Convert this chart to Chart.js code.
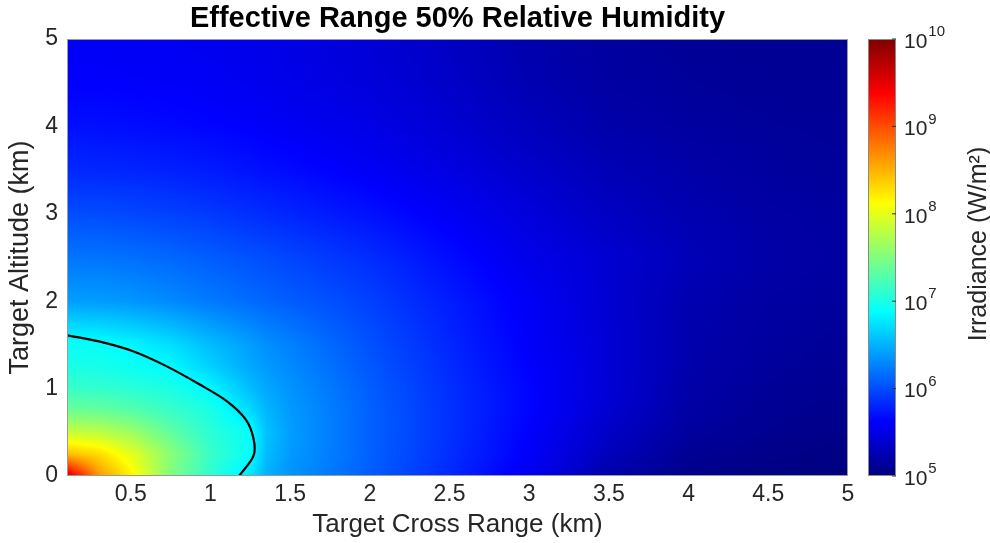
<!DOCTYPE html>
<html>
<head>
<meta charset="utf-8">
<script src="https://cdn.jsdelivr.net/npm/chart.js@4.4.1/dist/chart.umd.min.js"></script>
<style>
  html, body { margin: 0; background: #fff; }
  #wrap { width: 990px; height: 543px; }
</style>
</head>
<body>
<div id="wrap"><canvas id="graph1"></canvas></div>
<script>
// grid nodes (km)
const crossRange = [0.1, 0.3, 0.5, 0.75, 1, 1.25, 1.35, 1.5, 2, 2.5, 3, 3.5, 4, 4.5, 5];
const altitude   = [0, 0.25, 0.5, 0.75, 1, 1.25, 1.5, 2, 2.5, 3, 3.5, 4, 4.5, 5];

// log10 irradiance (W/m^2), one row per altitude, estimated from the colours
const alt0_00 = [9.6, 8.65, 8.2, 7.5, 7.1, 6.75, 6.5, 6.35, 6.08, 5.82, 5.55, 5.2, 5.05, 5.02, 5.0];
const alt0_25 = [8.45, 8.3, 8.0, 7.55, 7.15, 6.9, 6.55, 6.38, 6.1, 5.85, 5.6, 5.3, 5.1, 5.05, 5.02];
const alt0_50 = [7.85, 7.8, 7.65, 7.35, 7.08, 6.9, 6.58, 6.4, 6.1, 5.86, 5.62, 5.35, 5.15, 5.08, 5.04];
const alt0_75 = [7.4, 7.38, 7.3, 7.15, 7.0, 6.7, 6.52, 6.38, 6.1, 5.86, 5.64, 5.4, 5.18, 5.1, 5.06];
const alt1_00 = [7.15, 7.12, 7.08, 7.0, 6.85, 6.55, 6.45, 6.35, 6.08, 5.85, 5.64, 5.42, 5.2, 5.12, 5.08];
const alt1_25 = [7.0, 6.98, 6.93, 6.86, 6.65, 6.45, 6.38, 6.3, 6.05, 5.83, 5.62, 5.42, 5.22, 5.14, 5.1];
const alt1_50 = [6.92, 6.9, 6.84, 6.72, 6.55, 6.4, 6.33, 6.26, 6.02, 5.81, 5.6, 5.42, 5.22, 5.15, 5.11];
const alt2_00 = [6.4, 6.39, 6.36, 6.3, 6.22, 6.15, 6.12, 6.08, 5.94, 5.76, 5.58, 5.4, 5.24, 5.17, 5.14];
const alt2_50 = [6.2, 6.19, 6.17, 6.13, 6.08, 6.02, 6.0, 5.96, 5.84, 5.68, 5.52, 5.4, 5.28, 5.2, 5.16];
const alt3_00 = [6.0, 5.99, 5.97, 5.94, 5.9, 5.85, 5.83, 5.8, 5.7, 5.58, 5.45, 5.33, 5.24, 5.18, 5.15];
const alt3_50 = [5.82, 5.81, 5.8, 5.78, 5.75, 5.71, 5.69, 5.67, 5.58, 5.48, 5.37, 5.27, 5.2, 5.15, 5.13];
const alt4_00 = [5.7, 5.69, 5.68, 5.66, 5.64, 5.61, 5.59, 5.57, 5.5, 5.41, 5.3, 5.21, 5.16, 5.13, 5.12];
const alt4_50 = [5.62, 5.62, 5.61, 5.6, 5.58, 5.55, 5.54, 5.52, 5.45, 5.36, 5.25, 5.17, 5.13, 5.11, 5.11];
const alt5_00 = [5.58, 5.58, 5.57, 5.56, 5.54, 5.52, 5.51, 5.49, 5.42, 5.33, 5.22, 5.15, 5.11, 5.1, 5.1];
const logIrradiance = [alt0_00, alt0_25, alt0_50, alt0_75, alt1_00, alt1_25, alt1_50,
                       alt2_00, alt2_50, alt3_00, alt3_50, alt4_00, alt4_50, alt5_00];

// black contour line
const contourX = [0.1, 0.3, 0.51, 0.72, 0.93, 1.1, 1.22, 1.27, 1.27, 1.18];
const contourY = [1.61, 1.54, 1.43, 1.26, 1.05, 0.86, 0.65, 0.43, 0.23, 0.0];

// ticks
const xTicks = [0.5, 1, 1.5, 2, 2.5, 3, 3.5, 4, 4.5, 5];
const yTicks = [0, 1, 2, 3, 4, 5];
const cbExponents = [5, 6, 7, 8, 9, 10];

const chartTitle = 'Effective Range 50% Relative Humidity';
const textColor = '#262626';
const fontFamily = '"Liberation Sans", Arial, Helvetica, sans-serif';

function clamp(v, lo, hi) { return Math.max(lo, Math.min(hi, v)); }

function jet(t) {
  t = clamp(t, 0, 1);
  return [
    clamp(1.5 - Math.abs(4 * t - 3), 0, 1) * 255,
    clamp(1.5 - Math.abs(4 * t - 2), 0, 1) * 255,
    clamp(1.5 - Math.abs(4 * t - 1), 0, 1) * 255
  ];
}

function findCell(nodes, v) {
  let i = 0;
  while (i < nodes.length - 2 && v > nodes[i + 1]) i++;
  const f = clamp((v - nodes[i]) / (nodes[i + 1] - nodes[i]), 0, 1);
  return [i, f];
}

// smooth shading between the grid nodes (like shading interp)
function shade(xv, yv) {
  const [i, fx] = findCell(crossRange, xv);
  const [j, fy] = findCell(altitude, yv);
  const r0 = logIrradiance[j], r1 = logIrradiance[j + 1];
  const a = r0[i] + (r0[i + 1] - r0[i]) * fx;
  const b = r1[i] + (r1[i + 1] - r1[i]) * fx;
  return a + (b - a) * fy;
}

const heatmap = {
  id: 'heatmap',
  beforeDatasetsDraw(chart) {
    const { ctx, chartArea: a, scales } = chart;
    const w = Math.round(a.right - a.left), h = Math.round(a.bottom - a.top);
    const off = document.createElement('canvas');
    off.width = w; off.height = h;
    const octx = off.getContext('2d');
    const img = octx.createImageData(w, h);
    const lo = cbExponents[0], hi = cbExponents[cbExponents.length - 1];
    for (let j = 0; j < h; j++) {
      const yv = scales.y.getValueForPixel(a.top + j + 0.5);
      for (let i = 0; i < w; i++) {
        const xv = scales.x.getValueForPixel(a.left + i + 0.5);
        const c = jet((shade(xv, yv) - lo) / (hi - lo));
        const k = (j * w + i) * 4;
        img.data[k] = c[0]; img.data[k + 1] = c[1]; img.data[k + 2] = c[2]; img.data[k + 3] = 255;
      }
    }
    octx.putImageData(img, 0, 0);
    ctx.drawImage(off, a.left, a.top);
  },
  afterDraw(chart) {
    const { ctx, chartArea: a } = chart;
    ctx.save();
    ctx.strokeStyle = '#9a9a9a';
    ctx.lineWidth = 1;
    ctx.strokeRect(a.left + 0.5, a.top + 0.5, a.right - a.left - 1, a.bottom - a.top - 1);
    // title centred over the axes, as matlab does
    ctx.fillStyle = '#000';
    ctx.font = `bold 29px ${fontFamily}`;
    ctx.textAlign = 'center';
    ctx.textBaseline = 'middle';
    ctx.fillText(chartTitle, (a.left + a.right) / 2, 19);
    ctx.restore();
  }
};

const colorbar = {
  id: 'colorbar',
  afterDraw(chart) {
    const { ctx } = chart;
    const cb = chart.scales.cb;
    const lo = cbExponents[0], hi = cbExponents[cbExponents.length - 1];
    const x0 = cb.left + 20, bw = 28;
    ctx.save();
    for (let py = Math.floor(cb.top); py < Math.ceil(cb.bottom); py++) {
      const e = Math.log10(cb.getValueForPixel(py + 0.5));
      const c = jet((e - lo) / (hi - lo));
      ctx.fillStyle = `rgb(${c[0] | 0},${c[1] | 0},${c[2] | 0})`;
      ctx.fillRect(x0, py, bw, 1);
    }
    ctx.strokeStyle = '#8a8a8a';
    ctx.lineWidth = 1;
    ctx.strokeRect(x0 + 0.5, cb.top + 0.5, bw - 1, cb.bottom - cb.top - 1);
    ctx.fillStyle = textColor;
    ctx.textBaseline = 'middle';
    ctx.textAlign = 'left';
    cbExponents.forEach(e => {
      const py = cb.getPixelForValue(Math.pow(10, e));
      ctx.strokeStyle = '#333';
      ctx.beginPath();
      ctx.moveTo(x0 + bw - 4, py); ctx.lineTo(x0 + bw, py);
      ctx.stroke();
      ctx.font = `21px ${fontFamily}`;
      const bx = x0 + bw + 8;
      ctx.fillText('10', bx, py + 3);
      const bwid = ctx.measureText('10').width;
      ctx.font = `15px ${fontFamily}`;
      ctx.fillText(String(e), bx + bwid + 1, py - 7);
    });
    // colorbar label, reading bottom to top
    ctx.translate(979, 244);
    ctx.rotate(-Math.PI / 2);
    ctx.textAlign = 'center';
    ctx.font = `25px ${fontFamily}`;
    ctx.fillText('Irradiance (W/m\u00B2)', 0, 0);
    ctx.restore();
  }
};

const ctx = document.getElementById('graph1');
new Chart(ctx, {
  type: 'scatter',
  data: {
    datasets: [{
      label: 'contour',
      data: contourX.map((v, i) => ({ x: v, y: contourY[i] })),
      showLine: true,
      borderColor: '#000',
      borderWidth: 2.2,
      pointRadius: 0,
      tension: 0.3
    }]
  },
  options: {
    animation: false,
    responsive: true,
    maintainAspectRatio: false,
    layout: { padding: { left: 0, right: 37, top: 39, bottom: 0 } },
    plugins: {
      legend: { display: false },
      tooltip: { enabled: false },
      title: { display: false }
    },
    scales: {
      x: {
        type: 'linear',
        min: 0.1, max: 5,
        grid: { display: false, drawTicks: false },
        border: { display: false },
        afterBuildTicks: s => { s.ticks = xTicks.map(v => ({ value: v })); },
        afterFit: s => { s.height = 67; },
        ticks: {
          color: textColor, padding: 5, font: { family: fontFamily, size: 23 },
          callback: v => String(v)
        },
        title: {
          display: true, text: 'Target Cross Range (km)', color: textColor,
          font: { family: fontFamily, size: 26 }, padding: { top: 0, bottom: 3 }
        }
      },
      y: {
        type: 'linear',
        min: 0, max: 5,
        grid: { display: false, drawTicks: false },
        border: { display: false },
        afterBuildTicks: s => { s.ticks = yTicks.map(v => ({ value: v })); },
        afterFit: s => { s.width = 67; },
        ticks: {
          color: textColor, padding: 9, font: { family: fontFamily, size: 23 },
          callback: v => String(v)
        },
        title: {
          display: true, text: 'Target Altitude (km)', color: textColor,
          font: { family: fontFamily, size: 27 }, padding: { top: 4, bottom: 0 }
        }
      },
      cb: {
        type: 'logarithmic',
        position: 'right',
        min: 1e5, max: 1e10,
        grid: { display: false, drawTicks: false },
        border: { display: false },
        ticks: { display: false },
        afterFit: s => { s.width = 105; }
      }
    }
  },
  plugins: [heatmap, colorbar]
});
</script>
</body>
</html>
